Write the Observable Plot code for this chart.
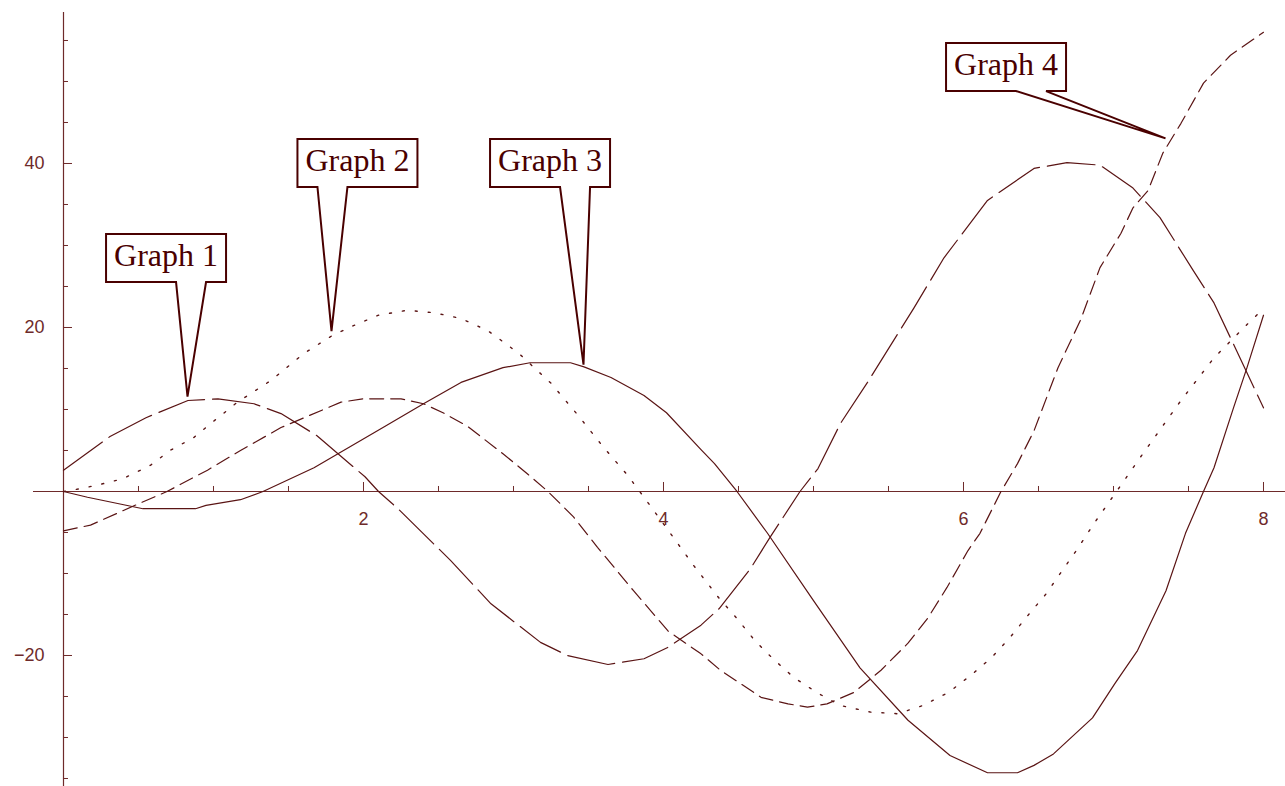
<!DOCTYPE html>
<html><head><meta charset="utf-8">
<script src="https://cdn.jsdelivr.net/npm/d3@7"></script>
<script src="https://cdn.jsdelivr.net/npm/@observablehq/plot@0.6"></script>
<style>html,body{margin:0;padding:0;background:#fff;} #chart svg{display:block}</style>
</head><body><div id="chart"></div>
<script>
// ---- data ----
const graph1 = [[0,2.6],[0.31,6.7],[0.55,9.0],[0.83,11.1],[1.03,11.3],[1.27,10.7],[1.45,9.5],[1.69,6.8],[1.83,4.6],[2.01,1.8],[2.1,0],[2.23,-2.1],[2.58,-8.4],[2.85,-13.7],[3.18,-18.4],[3.36,-20],[3.63,-21.1],[3.87,-20.4],[4.03,-19],[4.25,-16.3],[4.37,-14.3],[4.58,-9.4],[4.71,-5.6],[4.91,0],[5.03,2.8],[5.18,8.3],[5.36,13.3],[5.67,22.4],[5.87,28.5],[6.16,35.5],[6.47,39.4],[6.69,40.1],[6.91,39.8],[7.13,37],[7.31,33.4],[7.53,27],[7.67,23],[8.0,10.2]];
const graph2 = [[0,0],[0.13,0.4],[0.3,1.1],[0.4,1.6],[0.48,2.3],[0.58,3.2],[0.71,5],[0.87,6.6],[1.01,8.7],[1.16,10.9],[1.38,13.5],[1.6,16.8],[1.79,19],[1.93,20.2],[2.1,21.5],[2.29,22.1],[2.47,21.8],[2.65,21.1],[2.83,19.6],[2.98,17.6],[3.05,16.6],[3.25,13.2],[3.43,9.3],[3.6,5.4],[3.76,2],[3.87,-0.7],[4.03,-4.7],[4.2,-9.0],[4.37,-13.0],[4.49,-15.5],[4.61,-18.2],[4.73,-20.4],[4.87,-22.7],[5.03,-24.6],[5.18,-26.1],[5.38,-26.9],[5.56,-27.1],[5.73,-26.1],[5.9,-24.5],[6.05,-22.4],[6.19,-20.2],[6.31,-17.8],[6.43,-15.1],[6.55,-12.5],[6.66,-9.6],[6.76,-7],[6.87,-3.9],[6.97,-1.3],[7.07,1.3],[7.18,4.2],[7.45,11.1],[7.67,16.3],[7.87,20],[8,22.3]];
const graph3 = [[0,0],[0.16,-0.7],[0.53,-2.1],[0.88,-2.1],[0.95,-1.7],[1.18,-1.0],[1.33,0],[1.67,2.9],[1.83,4.6],[2.13,7.8],[2.4,10.7],[2.65,13.3],[2.93,15.1],[3.11,15.7],[3.38,15.7],[3.47,15.2],[3.65,13.9],[3.87,11.7],[4.02,9.6],[4.25,5.1],[4.34,3.4],[4.49,0],[4.69,-5],[5.0,-13.3],[5.31,-21.5],[5.63,-27.9],[5.91,-32.2],[6.16,-34.3],[6.36,-34.3],[6.47,-33.4],[6.6,-32],[6.86,-27.6],[7.01,-23.4],[7.16,-19.4],[7.35,-12.1],[7.48,-5.1],[7.6,0],[7.67,2.9],[7.8,10.2],[7.89,15.1],[8,21.5]];
const graph4 = [[0,-4.8],[0.18,-4.1],[0.5,-1.5],[0.69,0],[0.96,2.6],[1.18,5.0],[1.45,7.8],[1.85,10.9],[2.0,11.3],[2.25,11.3],[2.4,10.7],[2.53,9.6],[2.69,8.0],[2.93,4.6],[3.09,2.2],[3.23,0],[3.4,-3.1],[3.56,-6.8],[3.8,-12.1],[4.03,-17],[4.25,-19.8],[4.38,-21.8],[4.65,-25.1],[4.83,-25.9],[4.96,-26.3],[5.09,-25.9],[5.27,-24.5],[5.45,-21.8],[5.63,-18.5],[5.76,-15.5],[5.89,-11.7],[6.03,-7.2],[6.11,-5.1],[6.25,0],[6.36,3.4],[6.47,7.4],[6.63,15.1],[6.78,20.9],[6.91,27.3],[7.05,31.5],[7.13,34.6],[7.23,36.7],[7.33,41.3],[7.45,44.9],[7.6,49.8],[7.78,53.2],[8.0,56]];

const xMajorTicks = [2, 4, 6, 8];
const xMinorTicks = [0.5, 1, 1.5, 2.5, 3, 3.5, 4.5, 5, 5.5, 6.5, 7, 7.5];
const yMajorTicks = [-20, 20, 40];
const yMinorTicks = [-35, -30, -25, -15, -10, -5, 5, 10, 15, 25, 30, 35, 45, 50, 55];

const calloutLabels = ["Graph 1", "Graph 2", "Graph 3", "Graph 4"];
const calloutTipX = [0.83, 1.79, 3.47, 7.35];
const calloutTipY = [11.5, 19.5, 15.4, 43];
const calloutBoxX = [0.687, 1.963, 3.247, 6.287];
const calloutBoxY = [28.4, 40, 40, 51.7];

// ---- drawing ----
const W = 1285, H = 786;
const AX = "#6e2a2a", INK = "#5a1414", CALL = "#4a0000";
const fmt = v => (v < 0 ? "\u2212" : "") + Math.abs(v);
const rows = pts => pts.map(([x, y]) => ({x, y}));

const plot = Plot.plot({
  width: W, height: H, margin: 0,
  style: {background: "#fff"},
  x: {domain: [-0.42, 8.1467], axis: null},
  y: {domain: [-35.976, 59.878], axis: null},
  marks: [
    Plot.ruleY([0], {x1: -0.2, x2: 8.1467, stroke: AX, strokeWidth: 1.2}),
    Plot.ruleX([0], {y1: -35.976, y2: 58.41, stroke: AX, strokeWidth: 1.2}),
    Plot.ruleX(xMinorTicks, {x: d => d, y1: 0, y2: 0, insetTop: -5, stroke: AX}),
    Plot.ruleX(xMajorTicks, {x: d => d, y1: 0, y2: 0, insetTop: -9, stroke: AX}),
    Plot.ruleY(yMinorTicks, {y: d => d, x1: 0, x2: 0, insetRight: -5, stroke: AX}),
    Plot.ruleY(yMajorTicks, {y: d => d, x1: 0, x2: 0, insetRight: -9, stroke: AX}),
    Plot.text(xMajorTicks, {x: d => d, y: 0, dy: 27.5, text: fmt, fontSize: 18, fontFamily: "Liberation Sans", fill: AX}),
    Plot.text(yMajorTicks, {x: 0, y: d => d, dx: -19, textAnchor: "end", text: fmt, fontSize: 18, fontFamily: "Liberation Sans", fill: AX}),
    Plot.line(rows(graph1), {x: "x", y: "y", stroke: INK, strokeWidth: 1.2, strokeDasharray: "48,8"}),
    Plot.line(rows(graph2), {x: "x", y: "y", stroke: INK, strokeWidth: 1.4, strokeDasharray: "2,11"}),
    Plot.line(rows(graph3), {x: "x", y: "y", stroke: INK, strokeWidth: 1.2}),
    Plot.line(rows(graph4), {x: "x", y: "y", stroke: INK, strokeWidth: 1.2, strokeDasharray: "14,7"})
  ]
});

// callouts, positioned through the plot's own scales
const sx = plot.scale("x"), sy = plot.scale("y");
const g = d3.select(plot).append("g");
calloutLabels.forEach((label, i) => {
  const cx = sx.apply(calloutBoxX[i]), cy = sy.apply(calloutBoxY[i]);
  const tx = sx.apply(calloutTipX[i]), ty = sy.apply(calloutTipY[i]);
  const hw = 60, hh = 24, bw = 15;
  const bx = cx + 25 * Math.sign(tx - cx);
  const L = cx - hw, R = cx + hw, T = cy - hh, B = cy + hh;
  const pts = [[L, T], [R, T], [R, B], [bx + bw, B], [tx, ty], [bx - bw, B], [L, B]];
  g.append("polygon")
    .attr("points", pts.map(p => p.join(",")).join(" "))
    .attr("fill", "#fff").attr("stroke", CALL).attr("stroke-width", 2)
    .attr("stroke-linejoin", "miter");
  g.append("text")
    .attr("x", cx).attr("y", cy + 8)
    .attr("text-anchor", "middle")
    .attr("font-family", "Liberation Serif, Times New Roman, serif")
    .attr("font-size", 32)
    .attr("fill", CALL)
    .text(label);
});

document.getElementById("chart").appendChild(plot);
</script>
</body></html>
